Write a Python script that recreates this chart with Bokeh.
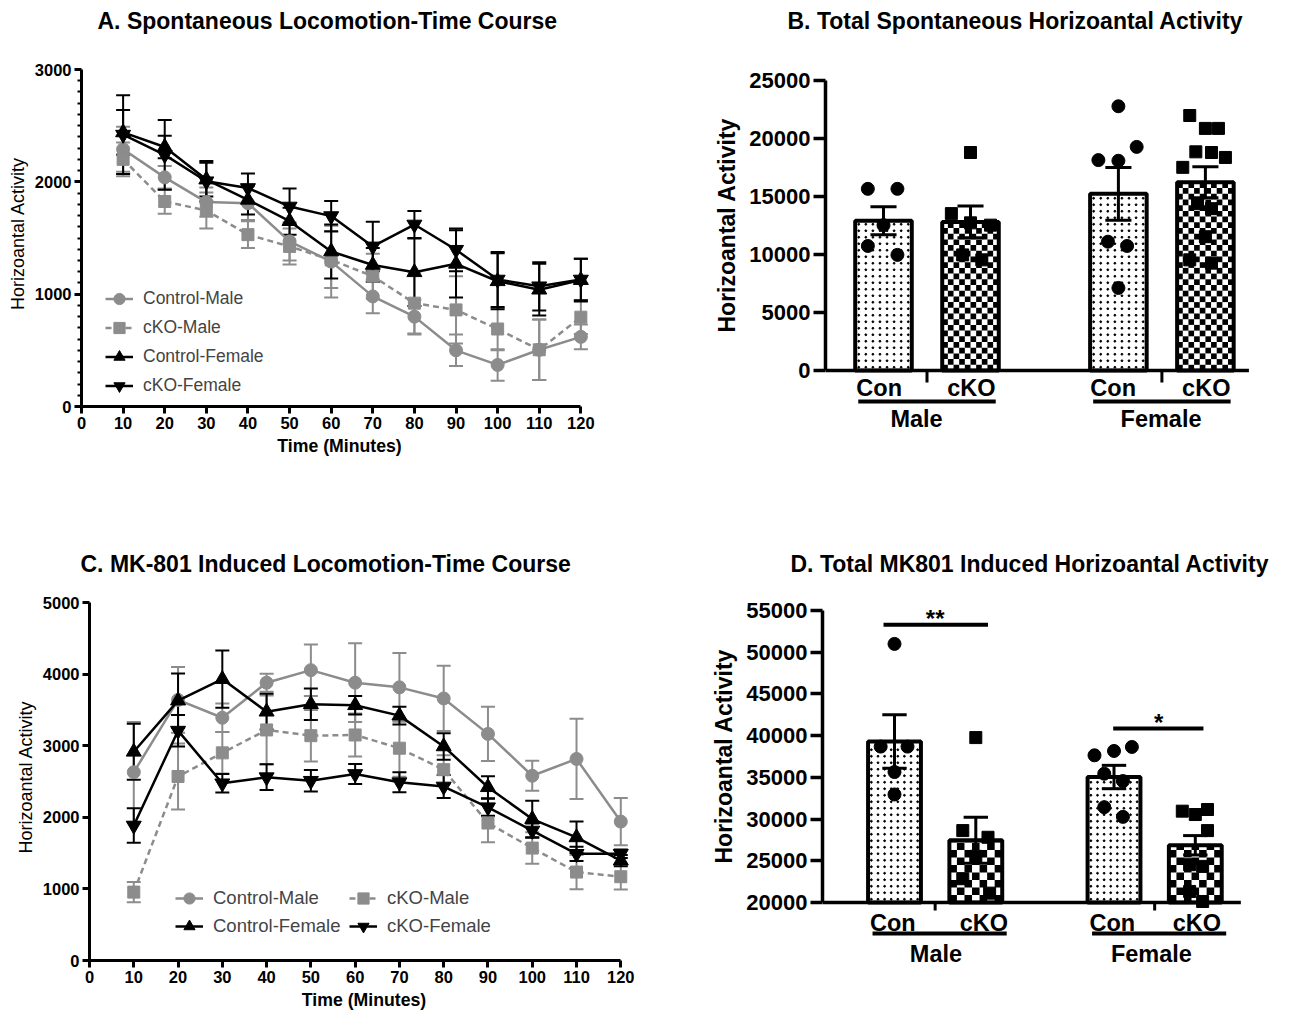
import numpy as np
from bokeh.plotting import figure
from bokeh.layouts import column, row
from bokeh.models import Legend, LegendItem, Range1d, FixedTicker, Title
from bokeh.embed import file_html
from bokeh.resources import INLINE
from bokeh.core.properties import value

FONT = "Liberation Sans"
GRAY = "#8c8c8c"

# ======================= DATA =======================
minutes = [10, 20, 30, 40, 50, 60, 70, 80, 90, 100, 110, 120]
time_ticks = [0, 10, 20, 30, 40, 50, 60, 70, 80, 90, 100, 110, 120]
series_names = ["Control-Male", "cKO-Male", "Control-Female", "cKO-Female"]

# Panel A - spontaneous locomotion (mean, SEM)
a_ctrl_male = [2290, 2040, 1820, 1810, 1470, 1290, 980, 800, 500, 370, 505, 620]
a_ctrl_male_sem = [200, 100, 130, 150, 170, 320, 150, 150, 140, 140, 270, 110]
a_cko_male = [2200, 1825, 1745, 1530, 1425, 1305, 1160, 920, 860, 690, 505, 795]
a_cko_male_sem = [150, 110, 160, 120, 160, 250, 200, 280, 300, 190, 270, 150]
a_ctrl_female = [2440, 2310, 2020, 1840, 1650, 1380, 1260, 1195, 1270, 1115, 1040, 1125]
a_ctrl_female_sem = [200, 100, 150, 130, 120, 240, 150, 300, 300, 250, 230, 190]
a_cko_female = [2420, 2240, 2005, 1945, 1780, 1695, 1425, 1620, 1395, 1130, 1070, 1130]
a_cko_female_sem = [350, 310, 180, 130, 160, 135, 220, 120, 190, 245, 215, 185]
a_yticks = [0, 1000, 2000, 3000]
a_yminor = [v for v in range(100, 3000, 100) if v % 1000]

# Panel C - MK-801 induced locomotion (mean, SEM)
c_ctrl_male = [2630, 3640, 3390, 3880, 4055, 3880, 3815, 3660, 3165, 2580, 2815, 1940]
c_ctrl_male_sem = [700, 460, 200, 125, 360, 550, 480, 455, 380, 210, 560, 330]
c_cko_male = [955, 2570, 2900, 3220, 3140, 3150, 2965, 2665, 1920, 1570, 1235, 1170]
c_cko_male_sem = [140, 460, 290, 480, 360, 300, 400, 200, 270, 220, 240, 180]
c_ctrl_female = [2915, 3630, 3930, 3475, 3580, 3565, 3420, 2990, 2420, 1975, 1720, 1395]
c_ctrl_female_sem = [390, 380, 400, 250, 220, 130, 125, 185, 155, 255, 220, 80]
c_cko_female = [1885, 3210, 2475, 2560, 2510, 2605, 2490, 2430, 2140, 1815, 1490, 1490]
c_cko_female_sem = [240, 220, 130, 180, 150, 140, 140, 160, 120, 100, 100, 60]
c_yticks = [0, 1000, 2000, 3000, 4000, 5000]

# Bar panels
conditions = ["Con", "cKO", "Con", "cKO"]
groups = ["Male", "Female"]

# Panel B - total spontaneous activity
b_con_male = [15660, 15660, 12530, 10735, 9966]
b_cko_male = [18793, 13525, 12728, 12530, 9966, 9539]
b_con_female = [22779, 19277, 18138, 18081, 11105, 10735, 7118]
b_cko_female = [21982, 20871, 20871, 18850, 18793, 18366, 17511, 14379, 13952, 11532, 9539, 9254]
b_means = [12910, 12810, 15230, 16230]
b_sems = [1200, 1370, 2280, 1340]
b_yticks = [0, 5000, 10000, 15000, 20000, 25000]

# Panel D - total MK801 induced activity
d_con_male = [50995, 38685, 38685, 35638, 32952]
d_cko_male = [39767, 28620, 27819, 25533, 22847, 21123]
d_con_female = [37643, 38164, 38645, 35437, 34555, 31427, 30265]
d_cko_female = [30947, 30546, 31147, 28620, 24531, 24330, 21323, 20120]
d_means = [39290, 27460, 35040, 26860]
d_sems = [3200, 2770, 1400, 1160]
d_yticks = [20000, 25000, 30000, 35000, 40000, 45000, 50000, 55000]
d_sig_labels = ["**", "*"]
d_sig_levels = [53280, 40850]

# ======================= LAYOUT / STYLE =======================
POS = np.array([0.0, 1.0, 2.7, 3.7])
BAR_W = 0.65
b_jit = [[-0.18, 0.16, 0.0, -0.18, 0.16],
         [0.0, -0.22, 0.0, 0.23, -0.09, 0.13],
         [0.0, 0.21, -0.23, 0.0, -0.12, 0.10, 0.0],
         [-0.18, 0.0, 0.15, -0.11, 0.07, 0.23, -0.26, -0.09, 0.07, 0.0, -0.18, 0.07]]
d_jit = [[0.0, -0.17, 0.16, 0.0, 0.0],
         [0.0, -0.16, 0.15, 0.0, -0.16, 0.17],
         [-0.24, 0.0, 0.22, -0.12, 0.11, -0.12, 0.11],
         [-0.16, 0.0, 0.15, 0.15, -0.07, 0.09, -0.07, 0.09]]

TITLE_BOX = 38    # approx. height taken by the title (text + 2 + standoff 10)
YLAB_HALF = 107   # half length of the bold 23px y-axis label


def base_fig(W, H, L, R, B, T, xr, yr, title, title_dx, x_axis=True):
    kw = dict(width=W, height=H, x_range=Range1d(*xr), y_range=Range1d(*yr),
              output_backend="svg", toolbar_location=None, title=None,
              min_border_left=L, min_border_right=R, min_border_top=0, min_border_bottom=B)
    if not x_axis:
        kw["x_axis_type"] = None
    p = figure(**kw)
    p.frame_align = False
    p.grid.visible = False
    p.outline_line_color = None
    spacer = Title(text=" ", text_font_size="1px", standoff=max(0, int(round(T - TITLE_BOX - 3))))
    p.add_layout(spacer, "above")
    ttl = Title(text=title, text_font=FONT, text_font_size="23px", text_font_style="bold",
                align="left", offset=title_dx, standoff=10, text_color="black")
    p.add_layout(ttl, "above")
    return p


def style_axis(ax, tick_font, label_font, label_style, tick_out=7, lw=3,
               label_standoff=3, axis_label_standoff=4):
    ax.axis_line_width = lw
    ax.axis_line_color = "black"
    ax.major_tick_line_width = lw
    ax.major_tick_out = tick_out
    ax.major_tick_in = 0
    ax.minor_tick_line_width = 2
    ax.minor_tick_out = 4
    ax.minor_tick_in = 0
    ax.major_label_text_font = FONT
    ax.major_label_text_font_style = "bold"
    ax.major_label_text_font_size = tick_font
    ax.major_label_text_color = "black"
    ax.axis_label_text_font = FONT
    ax.axis_label_text_font_size = label_font
    ax.axis_label_text_font_style = label_style
    ax.axis_label_text_color = "black"
    ax.major_label_standoff = label_standoff
    ax.axis_label_standoff = axis_label_standoff


def time_panel(title, data, yticks, yminor, ymax, W, H, L, T, ppx, zero_px, top_px,
               title_left, leg_loc, ncols, leg_order, leg_font, leg_gh, leg_lw):
    xend = 124
    fw = int(round(xend * ppx))
    ppx = fw / xend
    R = W - L - fw
    Bm = H - zero_px
    ppy = (zero_px - top_px) / ymax
    p = base_fig(W, H, L, R, Bm, T, (0, xend), (0, (zero_px - T) / ppy), title, title_left - L)
    cap = 7.0 / ppx
    t = np.array(minutes, float)
    styles = [(GRAY, "circle", 13, "solid"), (GRAY, "square", 12, "6 4"),
              ("black", "triangle", 15, "solid"), ("black", "inverted_triangle", 15, "solid")]
    for (m, s), (col, mk, sz, dash) in zip(data, styles):
        m = np.array(m, float)
        s = np.array(s, float)
        p.segment(t, m - s, t, m + s, line_color=col, line_width=2)
        p.segment(t - cap, m + s, t + cap, m + s, line_color=col, line_width=2)
        p.segment(t - cap, m - s, t + cap, m - s, line_color=col, line_width=2)
    items = []
    for name, (m, s), (col, mk, sz, dash) in zip(series_names, data, styles):
        ln = p.line(t, m, line_color=col, line_width=2.5, line_dash=dash)
        sc = p.scatter(t, m, marker=mk, size=sz, fill_color=col, line_color=col)
        items.append(LegendItem(label=name, renderers=[ln, sc]))
    items = [items[k] for k in leg_order]
    leg = Legend(items=items, location=leg_loc, ncols=ncols,
                 border_line_color=None, background_fill_alpha=0,
                 label_text_font=FONT, label_text_font_size=leg_font,
                 glyph_width=28, glyph_height=leg_gh, label_height=leg_gh, label_width=leg_lw,
                 spacing=0, padding=0, margin=0, label_standoff=10)
    p.add_layout(leg)
    p.xaxis.ticker = FixedTicker(ticks=time_ticks)
    p.xaxis.bounds = (0, 120)
    p.xaxis.axis_label = "Time (Minutes)"
    p.yaxis.ticker = FixedTicker(ticks=yticks, minor_ticks=yminor)
    p.yaxis.bounds = (0, ymax)
    p.yaxis.axis_label = "Horizoantal Activity"
    style_axis(p.xaxis[0], "16.5px", "17.7px", "bold")
    style_axis(p.yaxis[0], "16.5px", "18px", "normal")
    return p


def bar_panel(title, pts, jit, means, sems, base, ytop, yticks, W, H, L, T, ppx, ppy,
              base_px, gap_px, line_end, cells, cond_dx, ul, grp_dx, ypx, title_left, sig=None):
    fw = W - L
    x0 = -gap_px / ppx
    x1 = x0 + fw / ppx
    y0 = base - (H - base_px) / ppy
    y1 = base + (base_px - T) / ppy
    p = base_fig(W, H, L, 0, 0, T, (x0, x1), (y0, y1), title, title_left - L, x_axis=False)
    means = np.array(means, float)
    sems = np.array(sems, float)
    con = [0, 2]
    cko = [1, 3]
    bw = BAR_W
    p.vbar(x=POS, bottom=base, top=means, width=bw, fill_color="white", line_color=None)
    # dotted fill of the control bars
    dot_px = 6.5
    dx_all, dy_all = [], []
    for i in con:
        left = POS[i] - bw / 2
        nx = int(bw * ppx // dot_px)
        xs = left + (np.arange(nx) + 0.5) * (bw / nx)
        ny = int((means[i] - base) * ppy // dot_px)
        ys = base + (np.arange(ny) + 0.5) * dot_px / ppy
        X, Y = np.meshgrid(xs, ys)
        dx_all += list(X.ravel())
        dy_all += list(Y.ravel())
    p.scatter(dx_all, dy_all, marker="circle", size=1.8, color="black")
    # checkerboard fill of the cKO bars
    ncol, cell_px = cells
    ch = cell_px / ppy
    ql, qr, qb, qt = [], [], [], []
    for i in cko:
        left = POS[i] - bw / 2
        cw = bw / ncol
        nrow = int(np.ceil((means[i] - base) / ch))
        for r in range(nrow):
            yb = base + r * ch
            yt = min(yb + ch, means[i])
            for c in range(ncol):
                if (r + c) % 2 == 0:
                    ql.append(left + c * cw)
                    qr.append(left + (c + 1) * cw)
                    qb.append(yb)
                    qt.append(yt)
    p.quad(left=ql, right=qr, bottom=qb, top=qt, fill_color="black", line_color=None)
    p.vbar(x=POS, bottom=base, top=means, width=bw, fill_color=None,
           line_color="black", line_width=4)
    p.segment(x0=[x0], y0=[base], x1=[line_end], y1=[base], line_color="black", line_width=3.5)
    cap = 0.15
    p.segment(POS, means - sems, POS, means + sems, line_color="black", line_width=3)
    p.segment(POS - cap, means + sems, POS + cap, means + sems, line_color="black", line_width=3)
    p.segment(POS - cap, means - sems, POS + cap, means - sems, line_color="black", line_width=3)
    for i, (vals, dx) in enumerate(zip(pts, jit)):
        if i in con:
            p.scatter(POS[i] + np.array(dx), vals, marker="circle", size=13, color="black")
        else:
            p.scatter(POS[i] + np.array(dx), vals, marker="square", size=12, color="black")

    def ypix(px):
        return base - px / ppy

    tick_px, cond_px, ul_px, grp_px = ypx
    gt = POS[con] + 0.5
    p.segment(gt, [base] * 2, gt, [ypix(tick_px)] * 2, line_color="black", line_width=3)
    p.text(x=POS + np.array(cond_dx), y=[ypix(cond_px)] * 4, text=conditions,
           text_align="center", text_baseline="middle", text_font=value(FONT),
           text_font_style="bold", text_font_size="23.5px", text_color="black")
    p.segment(POS[con] + ul[0], [ypix(ul_px)] * 2, POS[cko] + ul[1], [ypix(ul_px)] * 2,
              line_color="black", line_width=4)
    p.text(x=POS[con] + np.array(grp_dx), y=[ypix(grp_px)] * 2, text=groups,
           text_align="center", text_baseline="middle", text_font=value(FONT),
           text_font_style="bold", text_font_size="23.5px", text_color="black")
    if sig is not None:
        labels, levels, spans, tx = sig
        sx0 = [POS[0] + spans[0][0], POS[2] + spans[1][0]]
        sx1 = [POS[1] + spans[0][1], POS[3] + spans[1][1]]
        p.segment(sx0, levels, sx1, levels, line_color="black", line_width=4)
        p.text(x=[POS[0] + tx[0], POS[2] + tx[1]], y=[lv + 6 / ppy for lv in levels],
               text=labels, text_align="center", text_baseline="alphabetic",
               text_font=value(FONT), text_font_style="bold", text_font_size="24px",
               text_color="black")
    p.yaxis.ticker = FixedTicker(ticks=yticks)
    p.yaxis.bounds = (base, ytop)
    style_axis(p.yaxis[0], "22px", "23px", "bold", tick_out=12, lw=3.5,
               label_standoff=3, axis_label_standoff=7)
    # y-axis title centred on the axis extent (not on the taller frame)
    axis_top_px = base_px - (ytop - base) * ppy
    centre_px = (base_px + axis_top_px) / 2
    ylab = Title(text="Horizoantal Activity", text_font=FONT, text_font_size="23px",
                 text_font_style="bold", align="left", vertical_align="bottom",
                 offset=int(round(H - centre_px - YLAB_HALF)), standoff=14, text_color="black")
    p.add_layout(ylab, "left")
    return p


TOP_H = 543
BOT_H = 474
LEFT_W = 648
RIGHT_W = 641

pa = time_panel("A. Spontaneous Locomotion-Time Course",
                [(a_ctrl_male, a_ctrl_male_sem), (a_cko_male, a_cko_male_sem),
                 (a_ctrl_female, a_ctrl_female_sem), (a_cko_female, a_cko_female_sem)],
                a_yticks, a_yminor, 3000, W=LEFT_W, H=TOP_H, L=81, T=60, ppx=499 / 120,
                zero_px=406, top_px=69, title_left=97,
                leg_loc=(24, 6), ncols=1, leg_order=[0, 1, 2, 3], leg_font="17.5px",
                leg_gh=29, leg_lw=20)

pb = bar_panel("B. Total Spontaneous Horizoantal Activity",
               [b_con_male, b_cko_male, b_con_female, b_cko_female], b_jit,
               b_means, b_sems, 0, 25000, b_yticks, W=RIGHT_W, H=TOP_H, L=825 - LEFT_W, T=70,
               ppx=87, ppy=290 / 25000, base_px=370, gap_px=58, line_end=4.2, cells=(10, 5.7),
               cond_dx=[-0.05, 0.01, -0.06, 0.01], ul=(-0.29, 0.29), grp_dx=[0.38, 0.49],
               ypx=(12, 17, 31, 48), title_left=787 - LEFT_W)

pc = time_panel("C. MK-801 Induced Locomotion-Time Course",
                [(c_ctrl_male, c_ctrl_male_sem), (c_cko_male, c_cko_male_sem),
                 (c_ctrl_female, c_ctrl_female_sem), (c_cko_female, c_cko_female_sem)],
                c_yticks, [], 5000, W=LEFT_W, H=BOT_H, L=89, T=50, ppx=531 / 120,
                zero_px=960 - TOP_H, top_px=602 - TOP_H, title_left=80,
                leg_loc=(86, 20), ncols=2, leg_order=[0, 2, 1, 3], leg_font="18.5px",
                leg_gh=28, leg_lw=136)

pd_ = bar_panel("D. Total MK801 Induced Horizoantal Activity",
                [d_con_male, d_cko_male, d_con_female, d_cko_female], d_jit,
                d_means, d_sems, 20000, 55000, d_yticks, W=RIGHT_W, H=BOT_H, L=822 - LEFT_W,
                T=45, ppx=81.3, ppy=292 / 35000, base_px=902 - TOP_H, gap_px=72, line_end=4.26,
                cells=(7, 7.5), cond_dx=[-0.02, 0.1, -0.02, 0.02], ul=(-0.27, 0.38),
                grp_dx=[0.51, 0.46], ypx=(8, 20, 31, 51), title_left=790 - LEFT_W,
                sig=(d_sig_labels, d_sig_levels, [(-0.135, 0.15), (-0.01, 0.1)], [0.5, 0.55]))

layout = column(row(pa, pb), row(pc, pd_))
open("out.html", "w").write(file_html(layout, INLINE))
